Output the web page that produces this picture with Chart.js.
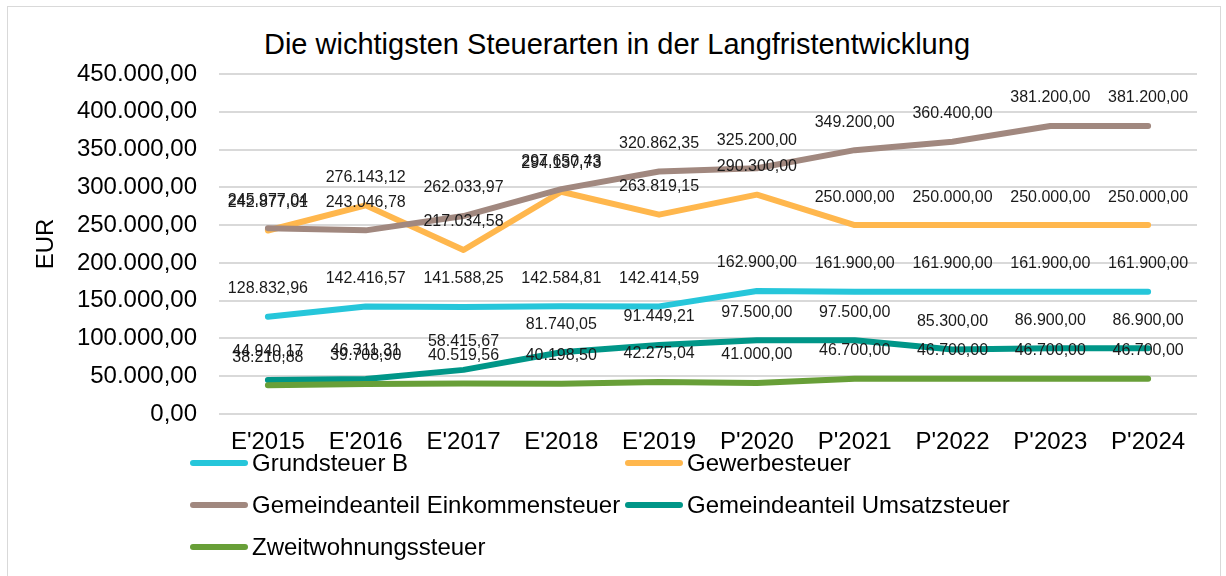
<!DOCTYPE html>
<html lang="de">
<head>
<meta charset="utf-8">
<title>Steuerarten Langfristentwicklung</title>
<script src="https://cdn.jsdelivr.net/npm/chart.js@4.4.1/dist/chart.umd.min.js"></script>
<style>
  html, body {
    margin: 0;
    padding: 0;
    background: #fff;
    overflow: hidden;
  }
  body {
    width: 1226px;
    height: 576px;
    position: relative;
    font-family: "Liberation Sans", Arial, sans-serif;
  }
  .frame {
    position: absolute;
    left: 7px;
    top: 6px;
    width: 1212px;
    height: 600px;
    border: 1px solid #d9d9d9;
  }
  .chart-title {
    position: absolute;
    left: 0;
    top: 27px;
    width: 1234px;
    text-align: center;
    font-size: 29px;
    line-height: 34px;
    color: #000;
    white-space: nowrap;
  }
  .chart-box {
    position: absolute;
    left: 0;
    top: 0;
    width: 1226px;
    height: 576px;
  }
  .legend {
    position: absolute;
    left: 190px;
    top: 442px;
    display: grid;
    grid-template-columns: 435px 500px;
    grid-auto-rows: 42px;
    font-size: 24px;
    color: #000;
  }
  .legend-item {
    display: flex;
    align-items: center;
    white-space: nowrap;
  }
  .legend-line {
    width: 58px;
    height: 6px;
    border-radius: 3px;
    margin-right: 4px;
  }
</style>
</head>
<body>
<div class="frame"></div>
<div class="chart-title">Die wichtigsten Steuerarten in der Langfristentwicklung</div>
<div class="chart-box"><canvas id="tax-chart"></canvas></div>
<div class="legend" id="legend"></div>

<script>
// Categories (E = Ergebnis, P = Planung)
const years = ["E'2015", "E'2016", "E'2017", "E'2018", "E'2019", "P'2020", "P'2021", "P'2022", "P'2023", "P'2024"];

// Series values in EUR
const grundsteuerB = [128832.96, 142416.57, 141588.25, 142584.81, 142414.59, 162900, 161900, 161900, 161900, 161900];
const gewerbesteuer = [242877.01, 276143.12, 217034.58, 294137.73, 263819.15, 290300, 250000, 250000, 250000, 250000];
const einkommensteuer = [245977.04, 243046.78, 262033.97, 297650.43, 320862.35, 325200, 349200, 360400, 381200, 381200];
const umsatzsteuer = [44940.17, 46311.31, 58415.67, 81740.05, 91449.21, 97500, 97500, 85300, 86900, 86900];
const zweitwohnungssteuer = [38210.88, 39708.90, 40519.56, 40198.50, 42275.04, 41000, 46700, 46700, 46700, 46700];

const seriesNames = ['Grundsteuer B', 'Gewerbesteuer', 'Gemeindeanteil Einkommensteuer', 'Gemeindeanteil Umsatzsteuer', 'Zweitwohnungssteuer'];
const seriesColors = ['#26C6DA', '#FFB74D', '#A1887F', '#009688', '#689F38'];
const seriesValues = [grundsteuerB, gewerbesteuer, einkommensteuer, umsatzsteuer, zweitwohnungssteuer];

// y axis: 0 to 450.000 in steps of 50.000
const yMin = 0;
const yMax = 450000;
const yStep = 50000;

/**
 * German number format: 450.000,00
 */
function formatEUR(value) {
  const parts = Number(value).toFixed(2).split('.');
  const intPart = parts[0].replace(/\B(?=(\d{3})+(?!\d))/g, '.');
  return intPart + ',' + parts[1];
}

// Draws the value above each point (like Excel data labels "above")
const valueLabels = {
  id: 'valueLabels',
  afterDatasetsDraw(chart) {
    const ctx = chart.ctx;
    ctx.save();
    ctx.font = '16px "Liberation Sans", Arial, sans-serif';
    ctx.fillStyle = '#1a1a1a';
    ctx.textAlign = 'center';
    ctx.textBaseline = 'middle';
    chart.data.datasets.forEach((ds, i) => {
      const meta = chart.getDatasetMeta(i);
      meta.data.forEach((pt, j) => {
        ctx.fillText(formatEUR(ds.data[j]), pt.x, pt.y - 28);
      });
    });
    ctx.restore();
  }
};

const datasets = seriesNames.map((name, i) => ({
  label: name,
  data: seriesValues[i],
  borderColor: seriesColors[i],
  backgroundColor: seriesColors[i],
  borderWidth: 6,
  borderCapStyle: 'round',
  borderJoinStyle: 'round',
  pointRadius: 0,
  tension: 0,
  order: seriesNames.length - i // later series on top, as in Excel
}));

const tickFont = { family: '"Liberation Sans", Arial, sans-serif', size: 24 };

new Chart(document.getElementById('tax-chart'), {
  type: 'line',
  data: {
    labels: years,
    datasets: datasets
  },
  options: {
    responsive: true,
    maintainAspectRatio: false,
    animation: false,
    layout: {
      padding: { left: 20, right: 29, top: 74, bottom: 119 }
    },
    plugins: {
      legend: { display: false },
      tooltip: { enabled: false }
    },
    scales: {
      x: {
        offset: true,
        grid: { display: false, drawTicks: false },
        border: { display: false },
        ticks: {
          color: '#000',
          padding: 14,
          maxRotation: 0,
          font: tickFont
        },
        afterFit(scale) {
          scale.height = 43;
        }
      },
      y: {
        min: yMin,
        max: yMax,
        grid: { color: '#d9d9d9', lineWidth: 2, drawTicks: false },
        border: { display: false },
        ticks: {
          stepSize: yStep,
          color: '#000',
          padding: 22,
          font: tickFont,
          callback: value => formatEUR(value)
        },
        title: {
          display: true,
          text: 'EUR',
          color: '#000',
          font: tickFont,
          padding: { top: 12, bottom: 0 }
        },
        afterFit(scale) {
          scale.width = 199;
        }
      }
    }
  },
  plugins: [valueLabels]
});

// HTML legend in two columns
const legendEl = document.getElementById('legend');
seriesNames.forEach((name, i) => {
  const item = document.createElement('div');
  item.className = 'legend-item';
  item.innerHTML = `<span class="legend-line" style="background:${seriesColors[i]}"></span><span>${name}</span>`;
  legendEl.appendChild(item);
});
</script>
</body>
</html>
